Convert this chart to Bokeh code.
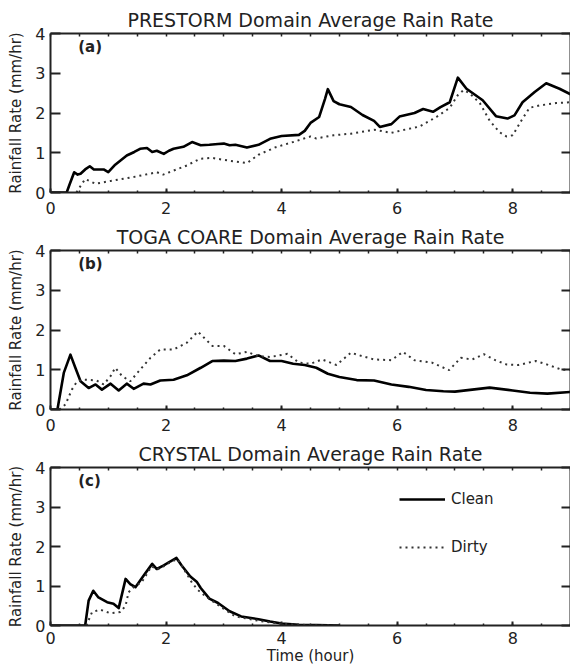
from bokeh.plotting import figure
from bokeh.layouts import column
from bokeh.models import (Range1d, LinearAxis, SingleIntervalTicker, FixedTicker,
                          Label, Legend, LegendItem)
from bokeh.embed import file_html
from bokeh.resources import INLINE

FONT = "DejaVu Sans"

# ---------------- data (hours, mm/hr) ----------------
titles = ["PRESTORM Domain Average Rain Rate",
          "TOGA COARE Domain Average Rain Rate",
          "CRYSTAL Domain Average Rain Rate"]
panel_tags = ["(a)", "(b)", "(c)"]
x_label = "Time (hour)"
y_label = "Rainfall Rate (mm/hr)"
legend_labels = ["Clean", "Dirty"]

a_t_clean = [0, 0.28, 0.33, 0.41, 0.47, 0.52, 0.6, 0.68, 0.75, 0.8, 0.92, 1.0,
             1.12, 1.32, 1.45, 1.55, 1.67, 1.76, 1.84, 1.96, 2.05, 2.13, 2.3,
             2.45, 2.6, 2.75, 2.9, 3.0, 3.1, 3.2, 3.4, 3.6, 3.8, 4.0, 4.3, 4.4,
             4.5, 4.65, 4.75, 4.8, 4.9, 5.0, 5.2, 5.4, 5.6, 5.7, 5.9, 6.04, 6.3,
             6.45, 6.62, 6.75, 6.91, 7.05, 7.2, 7.48, 7.71, 7.91, 8.03, 8.17,
             8.38, 8.58, 8.81, 9.0]
a_v_clean = [0, 0, 0.2, 0.51, 0.45, 0.47, 0.58, 0.66, 0.58, 0.58, 0.58, 0.51,
             0.7, 0.93, 1.02, 1.1, 1.12, 1.02, 1.05, 0.97, 1.05, 1.1, 1.15,
             1.27, 1.19, 1.2, 1.22, 1.23, 1.19, 1.2, 1.13, 1.2, 1.35, 1.42, 1.45,
             1.55, 1.75, 1.9, 2.35, 2.6, 2.3, 2.22, 2.15, 1.95, 1.8, 1.65, 1.72,
             1.91, 2.0, 2.1, 2.03, 2.15, 2.27, 2.89, 2.61, 2.32, 1.92, 1.86, 1.94,
             2.27, 2.53, 2.75, 2.61, 2.47]
a_t_dirty = [0.45, 0.49, 0.6, 0.78, 1.04, 1.44, 1.84, 1.95, 2.36, 2.59, 2.8, 3.0,
             3.2, 3.4, 3.6, 3.9, 4.2, 4.5, 4.6, 4.9, 5.2, 5.6, 5.9, 6.04, 6.39,
             6.68, 6.91, 7.05, 7.15, 7.25, 7.43, 7.6, 7.77, 7.89, 8.0, 8.15,
             8.29, 8.46, 8.75, 9.0]
a_v_dirty = [0, 0.1, 0.34, 0.22, 0.29, 0.39, 0.51, 0.45, 0.68, 0.85, 0.87, 0.82,
             0.78, 0.74, 0.95, 1.14, 1.27, 1.41, 1.36, 1.44, 1.48, 1.58, 1.5,
             1.55, 1.66, 1.9, 2.13, 2.45, 2.58, 2.5, 2.25, 1.81, 1.52, 1.41,
             1.44, 1.81, 2.13, 2.19, 2.25, 2.27]

b_t_clean = [0, 0.12, 0.23, 0.345, 0.43, 0.52, 0.66, 0.78, 0.89, 1.04, 1.18,
             1.32, 1.44, 1.61, 1.73, 1.9, 2.13, 2.36, 2.6, 2.8, 3.0, 3.2, 3.4,
             3.6, 3.8, 4.0, 4.2, 4.4, 4.6, 4.8, 5.0, 5.3, 5.6, 5.9, 6.2, 6.5,
             6.8, 7.0, 7.3, 7.6, 8.0, 8.3, 8.6, 9.0]
b_v_clean = [0, 0, 0.92, 1.38, 1.05, 0.71, 0.54, 0.63, 0.5, 0.65, 0.48, 0.65,
             0.52, 0.65, 0.63, 0.73, 0.75, 0.86, 1.05, 1.22, 1.23, 1.22, 1.28,
             1.36, 1.22, 1.22, 1.15, 1.12, 1.05, 0.9, 0.82, 0.74, 0.73, 0.63,
             0.57, 0.49, 0.46, 0.45, 0.5, 0.55, 0.48, 0.42, 0.4, 0.44]
b_t_dirty = [0.15, 0.26, 0.37, 0.46, 0.58, 0.8, 0.92, 1.04, 1.12, 1.24, 1.38,
             1.55, 1.73, 1.9, 2.13, 2.36, 2.55, 2.8, 3.0, 3.2, 3.4, 3.6, 3.8,
             4.1, 4.3, 4.5, 4.7, 4.95, 5.2, 5.4, 5.6, 5.9, 6.1, 6.3, 6.6, 6.9,
             7.1, 7.3, 7.5, 7.7, 7.9, 8.1, 8.4, 8.6, 8.85, 9.0]
b_v_dirty = [0, 0.13, 0.5, 0.71, 0.75, 0.73, 0.63, 0.84, 1.05, 0.84, 0.71, 1.0,
             1.3, 1.51, 1.51, 1.68, 1.96, 1.6, 1.6, 1.39, 1.45, 1.34, 1.32, 1.4,
             1.18, 1.15, 1.26, 1.12, 1.43, 1.34, 1.26, 1.24, 1.45, 1.24, 1.18,
             0.99, 1.3, 1.26, 1.39, 1.24, 1.13, 1.12, 1.22, 1.13, 1.0, 1.0]

c_t_clean = [0, 0.6, 0.66, 0.74, 0.83, 0.98, 1.09, 1.18, 1.3, 1.38, 1.47, 1.61,
             1.76, 1.84, 1.96, 2.07, 2.18, 2.27, 2.42, 2.53, 2.6, 2.75, 2.9,
             3.1, 3.3, 3.6, 3.8, 4.0, 4.3, 4.6, 5.0]
c_v_clean = [0, 0, 0.63, 0.88, 0.71, 0.59, 0.55, 0.44, 1.18, 1.05, 0.97, 1.26,
             1.56, 1.43, 1.52, 1.62, 1.71, 1.52, 1.24, 1.11, 0.95, 0.68, 0.57,
             0.36, 0.23, 0.16, 0.1, 0.05, 0.02, 0.01, 0]
c_t_dirty = [0.62, 0.72, 0.86, 1.04, 1.21, 1.3, 1.35, 1.44, 1.58, 1.75, 1.85,
             1.96, 2.07, 2.2, 2.3, 2.45, 2.55, 2.65, 2.8, 3.0, 3.2, 3.6, 4.0,
             4.5, 5.0]
c_v_dirty = [0, 0.34, 0.4, 0.31, 0.34, 0.5, 0.84, 0.97, 1.1, 1.5, 1.42, 1.5,
             1.6, 1.68, 1.45, 1.08, 0.9, 0.78, 0.62, 0.42, 0.23, 0.12, 0.04,
             0.01, 0]

X_MAX = 9
Y_MAX = 4
tag_x = 0.48
tag_y = 3.66

# tick positions for the unlabelled mirror axes (top and right)
top_ticks = [i * 0.5 for i in range(19)]
right_ticks = [0, 1, 2, 3, 4]

AX_COLOR = "#222222"
TXT = "#222222"


def style_axis(ax, tick_len, minor_len):
    ax.axis_line_color = AX_COLOR
    ax.axis_line_width = 2
    ax.major_tick_line_color = AX_COLOR
    ax.major_tick_line_width = 2
    ax.minor_tick_line_color = AX_COLOR
    ax.minor_tick_line_width = 1.5
    ax.major_tick_in = tick_len
    ax.major_tick_out = 0
    ax.minor_tick_in = minor_len
    ax.minor_tick_out = 0
    ax.major_label_text_font = FONT
    ax.major_label_text_font_size = "16px"
    ax.major_label_text_color = TXT


def make_panel(idx, tc, vc, td, vd, height, top, bottom, with_xlabel=False,
               with_legend=False):
    p = figure(width=570, height=height, output_backend="svg",
               toolbar_location=None, x_range=Range1d(0, X_MAX),
               y_range=Range1d(0, Y_MAX), min_border_left=50,
               min_border_right=0, min_border_top=top, min_border_bottom=bottom,
               background_fill_color="white", border_fill_color="white")
    p.outline_line_color = None
    p.grid.visible = False

    p.title.text = titles[idx]
    p.title.align = "center"
    p.title.text_font = FONT
    p.title.text_font_size = "19px"
    p.title.text_font_style = "normal"
    p.title.text_color = TXT
    p.title.standoff = 5

    p.xaxis.ticker = SingleIntervalTicker(interval=2, num_minor_ticks=4)
    p.yaxis.ticker = SingleIntervalTicker(interval=1, num_minor_ticks=0)
    style_axis(p.xaxis[0], 4, 2)
    style_axis(p.yaxis[0], 10, 0)
    p.xaxis.major_label_standoff = 9
    p.yaxis.major_label_standoff = 5
    p.yaxis.axis_label = y_label
    p.yaxis.axis_label_text_font = FONT
    p.yaxis.axis_label_text_font_size = "15px"
    p.yaxis.axis_label_text_font_style = "normal"
    p.yaxis.axis_label_text_color = TXT
    p.yaxis.axis_label_standoff = 7

    if with_xlabel:
        p.xaxis.axis_label = x_label
        p.xaxis.axis_label_text_font = FONT
        p.xaxis.axis_label_text_font_size = "15px"
        p.xaxis.axis_label_text_font_style = "normal"
        p.xaxis.axis_label_text_color = TXT
        p.xaxis.axis_label_standoff = 0
        p.xaxis.major_label_standoff = 6

    top_ax = LinearAxis(ticker=FixedTicker(ticks=[], minor_ticks=top_ticks))
    style_axis(top_ax, 0, 3)
    p.add_layout(top_ax, "above")
    right_ax = LinearAxis(ticker=FixedTicker(ticks=[], minor_ticks=right_ticks))
    style_axis(right_ax, 0, 9)
    right_ax.minor_tick_line_width = 2
    p.add_layout(right_ax, "right")

    r_clean = p.line(tc, vc, line_color="black", line_width=2.6,
                     line_join="round")
    r_dirty = p.line(td, vd, line_color="#333333", line_width=2,
                     line_dash="2 4")

    p.add_layout(Label(x=tag_x, y=tag_y, text=panel_tags[idx],
                       text_font=FONT, text_font_size="15px",
                       text_font_style="bold", text_baseline="middle",
                       text_color=TXT))

    if with_legend:
        leg = Legend(items=[LegendItem(label=legend_labels[0], renderers=[r_clean]),
                            LegendItem(label=legend_labels[1], renderers=[r_dirty])],
                     location=(349, 68), glyph_width=46, glyph_height=20,
                     label_standoff=6, spacing=28, padding=0, margin=0,
                     border_line_alpha=0, background_fill_alpha=0,
                     label_text_font=FONT, label_text_font_size="15px",
                     label_text_color=TXT)
        p.add_layout(leg, "center")
    return p


p1 = make_panel(0, a_t_clean, a_v_clean, a_t_dirty, a_v_dirty, 221, 33, 29)
p2 = make_panel(1, b_t_clean, b_v_clean, b_t_dirty, b_v_dirty, 217, 29, 29)
p3 = make_panel(2, c_t_clean, c_v_clean, c_t_dirty, c_v_dirty, 229, 29, 41,
                with_xlabel=True, with_legend=True)

layout = column(p1, p2, p3, spacing=0)
open("out.html", "w").write(file_html(layout, INLINE))
